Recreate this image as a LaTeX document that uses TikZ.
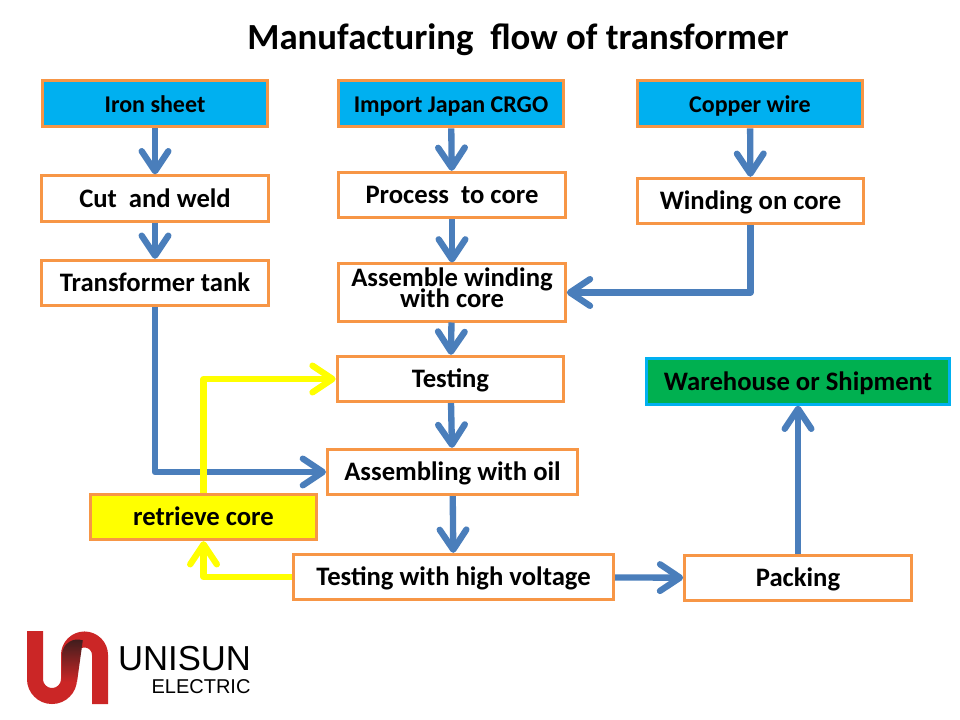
\documentclass[tikz,border=0pt]{standalone}
\usepackage{fontspec}
\setmainfont{Carlito}
\newfontfamily\logofont{Liberation Sans}
\usetikzlibrary{arrows.meta}
\definecolor{boxorange}{HTML}{F79646}
\definecolor{flowblue}{HTML}{4A7EBB}
\definecolor{skyfill}{HTML}{00B0F0}
\definecolor{shipgreen}{HTML}{00B050}
\definecolor{redoyellow}{HTML}{FFFF00}
\definecolor{logored}{HTML}{CB2626}
\definecolor{logodark}{HTML}{3E1D1D}

\begin{document}
\begin{tikzpicture}[x=0.75pt,y=-0.75pt,>={Straight Barb[length=15pt,width=20pt,round]}]
\tikzstyle{block} = [draw=boxorange, rectangle, line width=2.25pt, fill=white, font=\fontsize{20}{16}\selectfont\bfseries, align=center, inner sep=0pt, text height=15pt, text depth=2pt, minimum height=34pt, minimum width=170pt]
\tikzstyle{source} = [block, fill=skyfill, font=\fontsize{18}{16}\selectfont\bfseries, minimum height=35pt, minimum width=168.5pt]
\tikzstyle{flow} = [->, flowblue, line width=4.75pt, line join=round]
\tikzstyle{redo} = [->, redoyellow, line width=4.75pt, line join=round]
\useasboundingbox (0,0) rectangle (960,720);

    \node [font=\fontsize{27.6}{30}\selectfont\bfseries] (title) at (518,40) {Manufacturing\ \ flow of transformer};

    % left column
    \node [source] (iron) at (155,103.5) {Iron sheet};
    \node [block] (cut) at (155,198.5) {Cut\ \ and weld};
    \node [block] (tank) at (155,283) {Transformer tank};

    % middle column
    \node [source] (crgo) at (451,103.5) {Import Japan CRGO};
    \node [block] (process) at (452,195) {Process\ \ to core};
    \node [block, minimum height=42.75pt, text height=24pt, text depth=2pt] (assemble) at (452,292.5) {Assemble winding\\[-3pt]with core};
    \node [block] (testing) at (450.5,379) {Testing};
    \node [block, minimum width=187.5pt] (oil) at (452.5,472) {Assembling with oil};
    \node [block, minimum width=240pt] (voltage) at (453.5,577) {Testing with high voltage};

    % right column
    \node [source] (copper) at (750,103.5) {Copper wire};
    \node [block] (winding) at (750.5,201) {Winding on core};
    \node [block] (packing) at (798,578) {Packing};
    \node [block, draw=skyfill, fill=shipgreen, minimum width=227.5pt] (shipment) at (798,381.5) {Warehouse or Shipment};
    \node [block, fill=redoyellow] (retrieve) at (203.5,517) {retrieve core};

    % connectors
    \draw [flow] (iron) -- (cut);
    \draw [flow] (cut) -- (tank);
    \draw [flow] (crgo) -- (process);
    \draw [flow] (process) -- (assemble);
    \draw [flow] (copper) -- (winding);
    \draw [flow] (assemble) -- (testing);
    \draw [flow] (testing) -- (oil);
    \draw [flow] (oil) -- (voltage);
    \draw [flow] (voltage) -- (packing);
    \draw [flow] (packing) -- (shipment);
    \draw [flow] (winding) |- (assemble);
    \draw [flow] (tank) |- (oil);
    \draw [redo] (retrieve) |- (testing);
    \draw [redo] (voltage) -| (retrieve);

    % logo
    \draw [logored, line width=12pt] (35,631) -- (35,679) arc (180:0:17) -- (69,655) arc (180:360:15.5) -- (100,704);
    \path [top color=logodark, bottom color=logored] (62,682) -- (62,655) arc (180:290:15.5) -- (77,682) -- cycle;
    \node [font=\logofont\fontsize{26}{28}\selectfont, inner sep=0pt] (unisun) at (184.5,659) {UNISUN};
    \node [font=\logofont\fontsize{15}{18}\selectfont, inner sep=0pt] (electric) at (201,687) {ELECTRIC};
\end{tikzpicture}
\end{document}
